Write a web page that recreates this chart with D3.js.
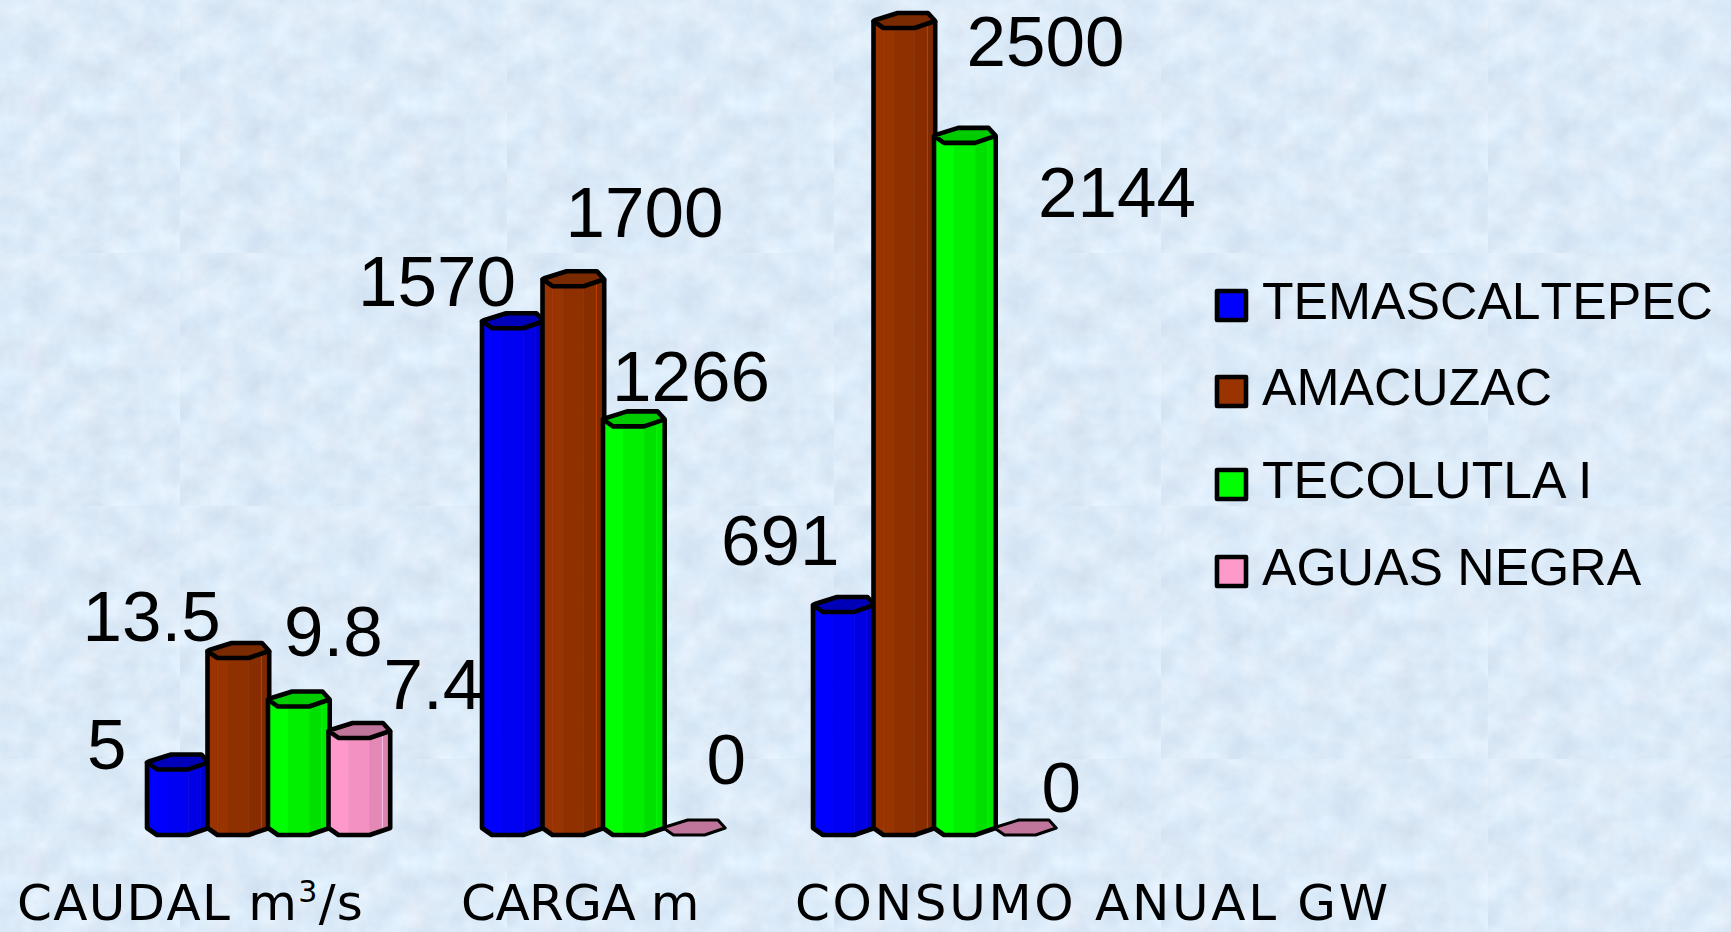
<!DOCTYPE html>
<html lang="es">
<head>
<meta charset="utf-8">
<title>Centrales hidroeléctricas</title>
<script src="https://cdn.jsdelivr.net/npm/d3@7/dist/d3.min.js"></script>
<style>
  html, body { margin: 0; padding: 0; background: #dcebf8; overflow: hidden; }
  svg { display: block; }
  text { font-kerning: none; }
  .value { font-family: "Liberation Sans", Arial, sans-serif; font-size: 71px; fill: #000; }
  .legend-label { font-family: "Liberation Sans", Arial, sans-serif; font-size: 51.7px; fill: #000; }
  .category { font-family: "Comic Sans MS", "DejaVu Sans", sans-serif; font-size: 50px; fill: #000; }
</style>
</head>
<body>
<svg id="chart" width="1731" height="932"></svg>
<script>
// Plant names, in the order the bars run inside each group
const plants = ["TEMASCALTEPEC", "AMACUZAC", "TECOLUTLA I", "AGUAS NEGRA"];
const metrics = ["CAUDAL", "CARGA", "CONSUMO"];

// Values per metric, one for each plant
const caudal = [5, 13.5, 9.8, 7.4];
const carga = [1570, 1700, 1266, 0];
const consumo = [691, 2500, 2144, 0];

// Face colours of the prisms: front-left, front, right bevel, side, cap
const blueFaces = ["#0000ff", "#0000f2", "#0000e2", "#0000cc", "#0000b8"];
const brownFaces = ["#993300", "#8f3000", "#872d00", "#7f2a00", "#7a2a00"];
const greenFaces = ["#00ff00", "#00f000", "#00e000", "#00e800", "#00cc00"];
const pinkFaces = ["#ff99cc", "#f291c2", "#e488b6", "#dc84ae", "#c0759a"];

const width = 1731, height = 932;
const baseY = 835;
const barW = 60.5;

const svg = d3.select("#chart");

// Mottled paper backdrop, repeated as a tile
const defs = svg.append("defs");
const paper = defs.append("filter").attr("id", "paper")
  .attr("x", 0).attr("y", 0).attr("width", "100%").attr("height", "100%")
  .attr("color-interpolation-filters", "sRGB");
paper.append("feTurbulence").attr("type", "fractalNoise")
  .attr("baseFrequency", 0.035).attr("numOctaves", 6).attr("seed", 11);
paper.append("feColorMatrix").attr("type", "matrix")
  .attr("values", "0.12 0.03 0 0 0.79  0.10 -0.01 0 0 0.875  0.07 -0.03 0 0 0.952  0 0 0 0 1");
const tile = defs.append("pattern").attr("id", "tile").attr("patternUnits", "userSpaceOnUse")
  .attr("x", 180).attr("y", 0).attr("width", 327).attr("height", 253);
tile.append("rect").attr("width", 327).attr("height", 253).attr("filter", "url(#paper)");
svg.append("rect").attr("width", width).attr("height", height).attr("fill", "url(#tile)");

// Each metric is drawn on its own vertical scale
const heightScales = {
  CAUDAL: d3.scaleLinear().domain([0, 13.5]).range([0, 177]),
  CARGA: d3.scaleLinear().domain([0, 2500]).range([0, 807]),
  CONSUMO: d3.scaleLinear().domain([0, 2500]).range([0, 807])
};
const valuesByMetric = { CAUDAL: caudal, CARGA: carga, CONSUMO: consumo };

const groupX = d3.scaleOrdinal().domain(metrics).range([147, 482, 813]);
const barX = d3.scaleBand().domain(plants).range([0, barW * 4]);
const faces = d3.scaleOrdinal().domain(plants).range([blueFaces, brownFaces, greenFaces, pinkFaces]);

const line = d3.line();
const applyInk = (s, w = 4.6) => s.attr("stroke", "#000").attr("stroke-width", w).attr("stroke-linejoin", "round");

// Horizontal stations around the prism, as fractions of its width
const st = { a: 0.165, shade: 0.33, b: 0.68, lit: 0.89, r: 1.02 };
const drop = 7;   // rise of the bevel at the silhouette edges
const depth = 15; // depth of the cap

function drawBar(g, x, top, colours, w, flat) {
  const X = f => x + f * w;
  // Outline of the lower and upper rim at a given station
  const rim = y => f => f <= st.a ? y - drop * (1 - f / st.a)
    : f <= st.b ? y : y - drop * (f - st.b) / (st.r - st.b);
  const upper = rim(top), lower = rim(baseY);
  if (!flat) {
    const stops = [0, st.a, st.shade, st.b, st.lit, st.r];
    const fills = [colours[0], colours[0], colours[1], colours[2], colours[3]];
    d3.pairs(stops).forEach(([p, q], i) => {
      g.append("polygon").attr("fill", fills[i]).attr("stroke", fills[i]).attr("stroke-width", 0.6)
        .attr("points", [[X(p), upper(p)], [X(q), upper(q)], [X(q), lower(q)], [X(p), lower(p)]].join(" "));
    });
    g.append("line").attr("x1", X(st.lit)).attr("x2", X(st.lit))
      .attr("y1", upper(st.lit)).attr("y2", lower(st.lit))
      .attr("stroke", d3.color(colours[0]).brighter(1)).attr("stroke-width", 1).attr("opacity", 0.7);
    // Silhouette of the prism body
    g.append("path").attr("fill", "none").call(applyInk).attr("d", line([
      [X(0), upper(0)], [X(0), lower(0)], [X(st.a), baseY],
      [X(st.b), baseY], [X(st.r), lower(st.r)], [X(st.r), upper(st.r)]
    ]));
  }
  // Cap: the flat hexagon closing the top of the prism
  g.append("path").attr("fill", colours[4]).call(applyInk, flat ? 3 : 4.6).attr("d", line([
    [X(0), upper(0)], [X(st.a), top], [X(st.b), top], [X(st.r), upper(st.r)],
    [X(0.9), top - depth], [X(0.4), top - depth], [X(0.03), top - drop - 1]
  ]) + "Z");
}

const barLayer = svg.append("g");
metrics.forEach(metric => {
  const y = heightScales[metric];
  valuesByMetric[metric].forEach((v, i) => {
    const p = plants[i];
    drawBar(barLayer.append("g"), groupX(metric) + barX(p), baseY - y(v), faces(p), barX.bandwidth(), v === 0);
  });
});

// Value labels are placed by hand beside their bars
const labelDx = {
  CAUDAL: [-60, -125, 16, 55],
  CARGA: [-124, 23, 9, 43],
  CONSUMO: [-92, 93, 104, 47]
};
const labelBaseline = {
  CAUDAL: [769, 641, 656, 709],
  CARGA: [306, 237, 401, 784],
  CONSUMO: [565, 66, 217, 812]
};
metrics.forEach(metric => {
  valuesByMetric[metric].forEach((v, i) => {
    svg.append("text").attr("class", "value")
      .attr("x", groupX(metric) + barX(plants[i]) + labelDx[metric][i])
      .attr("y", labelBaseline[metric][i])
      .text(v);
  });
});

// Category captions below the groups
const captionX = d3.scaleOrdinal().domain(metrics).range([17, 461, 795]);
const captionTracking = d3.scaleOrdinal().domain(metrics).range([1.3, -0.5, 2.7]);
const caption = metric => svg.append("text").attr("class", "category")
  .attr("x", captionX(metric)).attr("y", 920).attr("letter-spacing", captionTracking(metric));
const caudalCaption = caption("CAUDAL");
caudalCaption.append("tspan").text("CAUDAL m");
caudalCaption.append("tspan").attr("dy", -18).attr("font-size", 30).text("3");
caudalCaption.append("tspan").attr("dy", 18).text("/s");
caption("CARGA").text("CARGA m");
caption("CONSUMO").text("CONSUMO ANUAL GW");

// Legend
const legendTop = d3.scaleOrdinal().domain(plants).range([291, 377, 470, 557]);
const legend = svg.append("g");
plants.forEach(p => {
  legend.append("rect").attr("x", 1217).attr("y", legendTop(p)).attr("width", 29).attr("height", 29)
    .attr("fill", faces(p)[0]).call(applyInk);
  legend.append("text").attr("class", "legend-label").attr("x", 1262).attr("y", legendTop(p) + 28)
    .style("font-kerning", p === "TECOLUTLA I" ? "normal" : null).text(p);
});
</script>
</body>
</html>
